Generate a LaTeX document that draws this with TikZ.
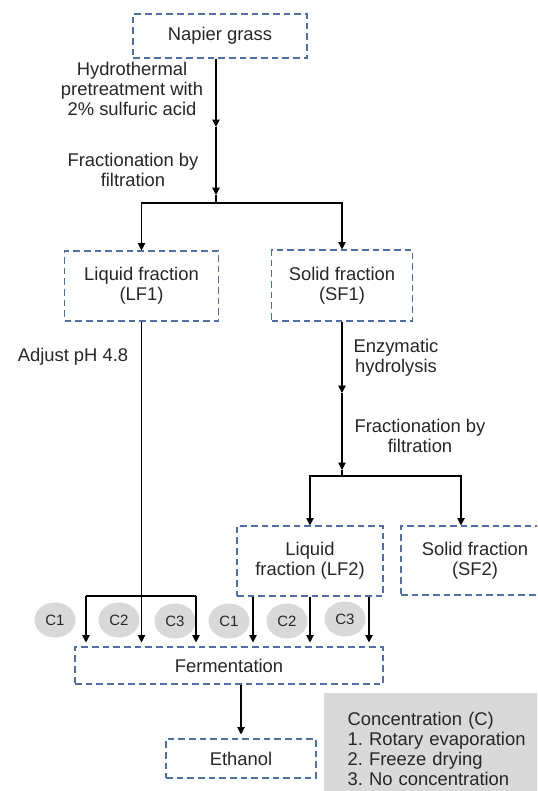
\documentclass[tikz,border=0pt]{standalone}
\usepackage{fontspec}
\setmainfont{Liberation Sans}
\usetikzlibrary{arrows.meta,shapes.geometric}
\definecolor{boxblue}{RGB}{79,111,168}
\definecolor{cgray}{RGB}{217,217,217}
\frenchspacing

\begin{document}
\begin{tikzpicture}[x=0.75pt,y=-0.75pt,
    every node/.style={font=\fontsize{13.8}{15}\selectfont, text=black!85},
    box/.style={draw=boxblue, dash pattern=on 5pt off 3pt, line width=0.8pt, align=center, inner sep=0pt},
    lbl/.style={align=center, inner sep=0pt},
    cnode/.style={ellipse, fill=cgray, inner sep=0pt, minimum width=30.75pt, minimum height=26.25pt, font=\fontsize{11.2}{13}\selectfont},
    arr/.style={-{Triangle[length=5.5pt,width=5.5pt]}, line width=0.8pt}]
    \clip (0,0) rectangle (537,791);

    \node[box, minimum width=130.5pt, minimum height=33pt] (napier) at (220,36) {Napier grass};
    \node[box, minimum width=115.5pt, minimum height=52.5pt] (lf1) at (141.5,286) {Liquid fraction\\(LF1)};
    \node[box, minimum width=105.75pt, minimum height=53.25pt] (sf1) at (342,285.5) {Solid fraction\\(SF1)};
    \node[box, minimum width=109.5pt, minimum height=52.5pt] (lf2) at (310,561) {Liquid\\fraction (LF2)};
    \node[box, minimum width=111pt, minimum height=51.75pt] (sf2) at (475,560.5) {Solid fraction\\(SF2)};
    \node[box, minimum width=231pt, minimum height=27.75pt] (ferment) at (229,665.5) {Fermentation};
    \node[box, minimum width=112.5pt, minimum height=29.25pt] (ethanol) at (241,758.5) {Ethanol};
    \node[fill=cgray, anchor=north west, align=left, inner xsep=14.25pt, inner ysep=14.5pt, minimum width=175pt, text width=140pt] (legend) at (324,693)
        {Concentration (C)\\1. Rotary evaporation\\2. Freeze drying\\3. No concentration};

    \node[lbl] (pretreat) at (132,89) {Hydrothermal\\pretreatment with\\2\% sulfuric acid};
    \node[lbl] (frac1) at (133,170) {Fractionation by\\filtration};
    \node[lbl] (adjust) at (73,357) {Adjust pH 4.8};
    \node[lbl] (enzyme) at (396,358) {Enzymatic\\hydrolysis};
    \node[lbl] (frac2) at (420,436) {Fractionation by\\filtration};

    \node[cnode] (c1a) at (55,620) {C1};
    \node[cnode] (c2a) at (119,620) {C2};
    \node[cnode] (c3a) at (175,621) {C3};
    \node[cnode] (c1b) at (229,621) {C1};
    \node[cnode] (c2b) at (287,621) {C2};
    \node[cnode] (c3b) at (345,619) {C3};

    \coordinate (m1) at (216,127);
    \coordinate (m2) at (216,195);
    \coordinate (j1) at (216,203);
    \draw[arr] (napier.south -| m1) -- (m1);
    \draw[arr] (m1) -- (m2);
    \draw[line width=0.8pt] (m2) -- (j1);
    \draw[arr] (j1) -| (lf1.north);
    \draw[arr] (j1) -| (sf1.north);

    \coordinate (b1) at (86,596);
    \coordinate (b3) at (196,596);
    \draw[line width=0.8pt] (b1) -- (b3);
    \draw[arr, shorten >=3pt] (lf1.south) -- (lf1.south |- ferment.north);
    \draw[arr, shorten >=3pt] (b1) -- (b1 |- ferment.north);
    \draw[arr, shorten >=3pt] (b3) -- (b3 |- ferment.north);

    \coordinate (m3) at (342,393);
    \coordinate (m4) at (342,470);
    \coordinate (j2) at (342,476);
    \draw[arr] (sf1.south) -- (m3);
    \draw[arr] (m3) -- (m4);
    \draw[line width=0.8pt] (m4) -- (j2);
    \draw[arr] (j2) -| (lf2.north);
    \draw[arr] (j2) -| ([xshift=-10.5pt]sf2.north);

    \foreach \dx in {-42.75pt,0pt,44.25pt}
        \draw[arr, shorten >=3pt] ([xshift=\dx]lf2.south) -- ([xshift=\dx]lf2.south |- ferment.north);

    \draw[arr, shorten >=3pt] (ferment.south -| ethanol) -- (ethanol.north);
\end{tikzpicture}
\end{document}
